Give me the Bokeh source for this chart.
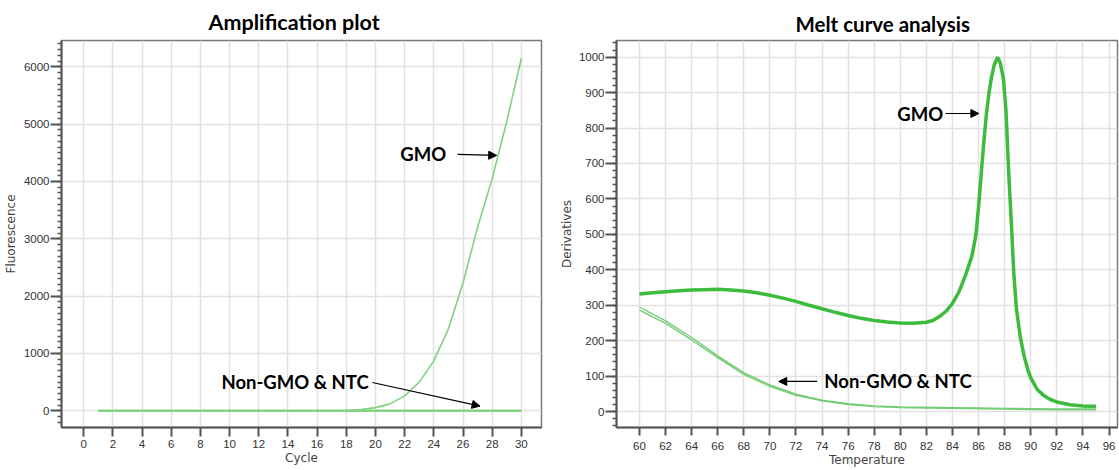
from bokeh.plotting import figure
from bokeh.layouts import row
from bokeh.models import Range1d, SingleIntervalTicker, Label, Arrow, NormalHead
from bokeh.embed import file_html
from bokeh.resources import INLINE

# ---------------- data: amplification plot ----------------
cycles = [1, 2, 3, 4, 5, 6, 7, 8, 9, 10, 11, 12, 13, 14, 15,
          16, 17, 18, 19, 20, 21, 22, 23, 24, 25, 26, 27, 28, 29, 30]
gmo_fluor = [0, 0, 0, 0, 0, 0, 0, 0, 0, 0, 0, 0, 0, 0, 0,
             0, 1, 5, 20, 55, 120, 260, 500, 870, 1430, 2230, 3200, 4050, 5050, 6150]
nongmo_fluor = [0, 0, 0, 0, 0, 0, 0, 0, 0, 0, 0, 0, 0, 0, 0,
                0, 0, 0, 0, 0, 0, 0, 0, 0, 0, 0, 0, 0, 0, 0]
ntc_fluor = [0, 0, 0, 0, 0, 0, 0, 0, 0, 0, 0, 0, 0, 0, 0,
             0, 0, 0, 0, 0, 0, 0, 0, 0, 0, 0, 0, 0, 0, 0]

# ---------------- data: melt curve ----------------
temp_gmo = [60, 61, 62, 63, 64, 65, 66, 67, 68, 69, 70, 71, 72, 73, 74, 75, 76, 77, 78,
            79, 80, 81, 82, 82.5, 83, 83.5, 84, 84.5, 85, 85.5, 85.8, 86, 86.2, 86.4,
            86.6, 86.8, 87, 87.2, 87.45, 87.65, 87.9, 88.1, 88.3, 88.5, 88.7, 88.9,
            89.2, 89.5, 89.8, 90, 90.5, 91, 91.5, 92, 93, 94, 95]
deriv_gmo = [332, 335, 338, 341, 343, 344, 345, 343, 340, 335, 328, 320, 311, 300, 290,
             280, 271, 263, 257, 253, 250, 249, 252, 257, 268, 283, 305, 338, 385, 440,
             500, 580, 670, 760, 840, 900, 945, 978, 1000, 985, 940, 850, 680, 540, 390,
             290, 210, 155, 115, 95, 62, 45, 34, 27, 19, 16, 15]
temp_neg = [60, 62, 64, 66, 68, 70, 72, 74, 76, 78, 80, 82, 84, 86, 88, 90, 92, 94, 95]
deriv_nongmo = [295, 256, 209, 157, 110, 75, 49, 32, 22, 16, 13, 12, 11, 10, 9, 8, 7, 7, 7]
deriv_ntc = [286, 249, 202, 152, 105, 71, 46, 30, 20, 14, 11, 10, 9, 8, 7, 6, 5, 5, 5]

TITLE_FONT = "Lato"
TICK_FONT = "Liberation Sans"
LABEL_FONT = "DejaVu Sans"


def style(p, y_interval, y_minor):
    p.background_fill_color = "white"
    p.border_fill_color = "white"
    p.outline_line_color = "#7a7a7a"
    p.outline_line_width = 1.5
    p.xgrid.grid_line_color = "#e1e1e1"
    p.ygrid.grid_line_color = "#e1e1e1"
    p.xgrid.grid_line_width = 1.5
    p.ygrid.grid_line_width = 1.5
    p.xaxis.ticker = SingleIntervalTicker(interval=2, num_minor_ticks=0)
    p.yaxis.ticker = SingleIntervalTicker(interval=y_interval, num_minor_ticks=y_minor)
    for ax in (p.xaxis[0], p.yaxis[0]):
        ax.axis_line_color = "#555555"
        ax.axis_line_width = 2
        ax.major_tick_line_color = "#555555"
        ax.major_tick_line_width = 2
        ax.minor_tick_line_color = "#555555"
        ax.minor_tick_line_width = 1.5
        ax.major_tick_in = 0
        ax.minor_tick_in = 0
        ax.major_label_text_font = TICK_FONT
        ax.major_label_text_font_size = "11.5px"
        ax.major_label_text_color = "#333333"
        ax.axis_label_text_font = LABEL_FONT
        ax.axis_label_text_font_size = "12px"
        ax.axis_label_text_font_style = "normal"
        ax.axis_label_text_color = "#444444"
    p.xaxis.minor_tick_out = 0
    p.yaxis.major_tick_out = 11
    p.yaxis.minor_tick_out = 4
    p.yaxis.major_label_standoff = 1
    p.title.text_font = TITLE_FONT
    p.title.text_font_style = "bold"
    p.title.text_color = "black"
    p.title.align = "left"


def annotate(p, text, tx, ty, x0, y0, x1, y1):
    p.add_layout(Label(x=tx, y=ty, text=text, text_font=TITLE_FONT,
                       text_font_size="18.5px", text_font_style="bold",
                       text_color="black", text_align="center",
                       text_baseline="middle"))
    p.add_layout(Arrow(end=NormalHead(size=8, fill_color="black",
                                      line_color="black", line_width=1),
                       x_start=x0, y_start=y0, x_end=x1, y_end=y1,
                       line_color="black", line_width=1.2))


# ---------------- left: amplification ----------------
p1 = figure(width=550, height=470, output_backend="svg", toolbar_location=None,
            title="Amplification plot",
            x_range=Range1d(-1.52, 31.38), y_range=Range1d(-292, 6460),
            min_border_left=61, min_border_right=9, min_border_top=36,
            min_border_bottom=41)
style(p1, 1000, 10)
p1.title.text_font_size = "21.5px"
p1.title.offset = 147
p1.title.standoff = 12
p1.xaxis.axis_label = "Cycle"
p1.yaxis.axis_label = "Fluorescence"
p1.xaxis.major_tick_out = 9
p1.xaxis.major_label_standoff = 3
p1.xaxis.axis_label_standoff = 0
p1.yaxis.axis_label_standoff = 3
amp_col = "#7fd37f"
p1.line(cycles, nongmo_fluor, line_color=amp_col, line_width=2)
p1.line(cycles, ntc_fluor, line_color=amp_col, line_width=2)
p1.line(cycles, gmo_fluor, line_color=amp_col, line_width=1.6)
annotate(p1, "GMO", 23.27, 4473, 25.62, 4473, 28.31, 4455)
annotate(p1, "Non-GMO & NTC", 14.49, 510, 19.79, 493, 27.17, 81)

# ---------------- right: melt curve ----------------
p2 = figure(width=569, height=470, output_backend="svg", toolbar_location=None,
            title="Melt curve analysis",
            x_range=Range1d(58.24, 96.65), y_range=Range1d(-45, 1047),
            min_border_left=66, min_border_right=2, min_border_top=39,
            min_border_bottom=43)
style(p2, 100, 5)
p2.title.text_font_size = "20.5px"
p2.title.offset = 179
p2.title.standoff = 10
p2.xaxis.axis_label = "Temperature"
p2.yaxis.axis_label = "Derivatives"
p2.xaxis.major_tick_out = 8
p2.xaxis.major_label_standoff = 6
p2.xaxis.axis_label_standoff = 0
p2.yaxis.axis_label_standoff = 2
neg_col = "#74cc74"
p2.line(temp_neg, deriv_nongmo, line_color=neg_col, line_width=1.4)
p2.line(temp_neg, deriv_ntc, line_color=neg_col, line_width=1.4)
p2.line(temp_gmo, deriv_gmo, line_color="#3dbb3d", line_width=3.5)
annotate(p2, "GMO", 81.53, 841, 83.47, 841, 86.02, 841)
annotate(p2, "Non-GMO & NTC", 79.82, 86.6, 73.63, 85, 70.68, 85)

layout = row(p1, p2)
open("out.html", "w").write(file_html(layout, INLINE))
